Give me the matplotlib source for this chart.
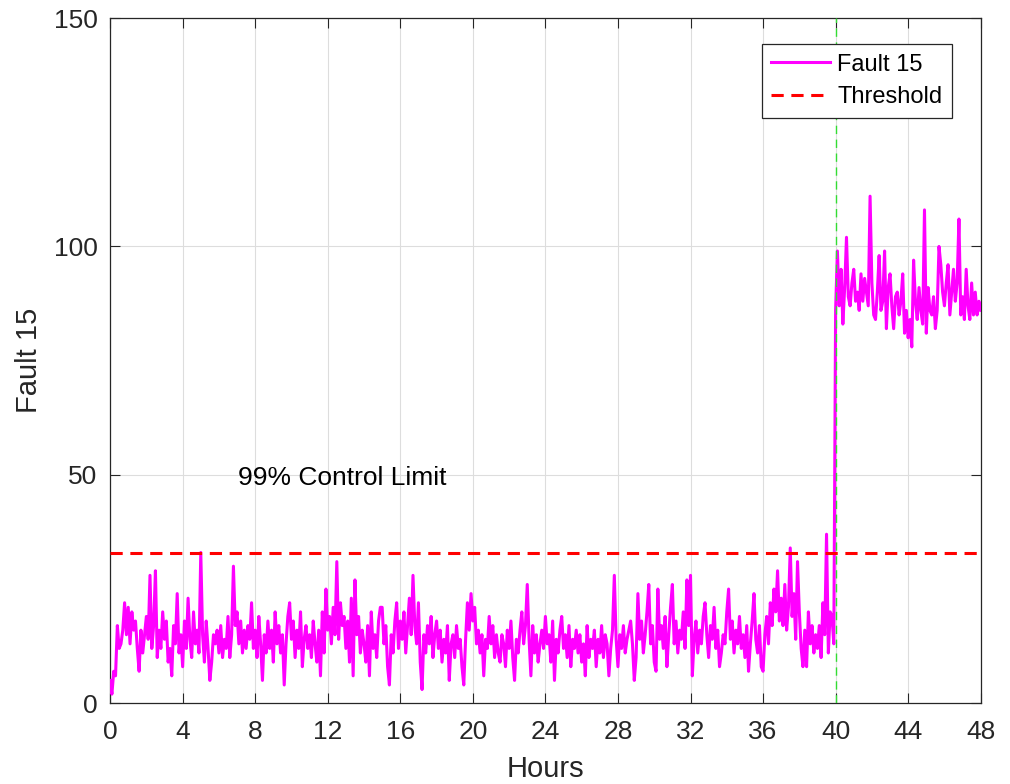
import numpy as np
import matplotlib
matplotlib.use("Agg")
import matplotlib.pyplot as plt

plt.rcParams['font.family'] = ['Liberation Sans', 'DejaVu Sans']

# ====================== DATA ======================
dt = 0.1
fault15 = [
    5, 2, 7, 6, 17, 12, 13, 16, 22, 15,
    21, 13, 20, 16, 18, 12, 7, 16, 11, 15,
    19, 14, 28, 12, 17, 29, 10, 16, 12, 20,
    14, 18, 9, 12, 6, 17, 13, 24, 11, 15,
    8, 18, 12, 23, 14, 10, 20, 13, 16, 11,
    33, 15, 9, 18, 12, 5, 9, 15, 13, 16,
    11, 17, 10, 14, 12, 19, 10, 15, 30, 17,
    20, 13, 18, 11, 16, 12, 17, 14, 22, 12,
    16, 10, 19, 13, 5, 15, 11, 18, 12, 16,
    9, 20, 13, 17, 11, 15, 4, 13, 19, 22,
    14, 18, 10, 16, 12, 20, 8, 14, 17, 12,
    15, 10, 18, 13, 9, 16, 6, 20, 11, 25,
    16, 19, 13, 21, 15, 31, 14, 22, 17, 19,
    12, 18, 9, 23, 6, 27, 15, 19, 11, 16,
    13, 9, 17, 6, 20, 12, 15, 10, 18, 21,
    21, 13, 17, 8, 4, 15, 11, 18, 22, 12,
    18, 14, 20, 11, 17, 23, 15, 28, 17, 13,
    22, 9, 3, 15, 11, 17, 13, 19, 10, 15,
    18, 12, 16, 9, 14, 11, 17, 5, 13, 15,
    10, 17, 12, 14, 8, 4, 14, 22, 16, 24,
    18, 21, 13, 16, 11, 15, 6, 14, 12, 19,
    13, 17, 10, 15, 11, 9, 15, 13, 8, 16,
    12, 18, 10, 5, 14, 11, 16, 20, 13, 17,
    26, 14, 6, 17, 11, 15, 9, 13, 16, 12,
    19, 13, 15, 9, 18, 5, 14, 11, 16, 19,
    12, 15, 10, 17, 8, 14, 12, 16, 11, 15,
    9, 13, 6, 17, 10, 14, 12, 16, 8, 14,
    11, 17, 10, 15, 13, 6, 12, 16, 28, 14,
    8, 15, 12, 17, 11, 14, 16, 18, 13, 5,
    10, 24, 14, 18, 11, 15, 20, 26, 13, 17,
    9, 7, 25, 14, 17, 12, 19, 8, 15, 21,
    26, 13, 18, 11, 16, 14, 20, 12, 27, 17,
    28, 6, 14, 18, 11, 16, 13, 19, 22, 15,
    10, 17, 14, 21, 12, 16, 8, 11, 15, 13,
    20, 25, 14, 18, 11, 16, 13, 19, 12, 15,
    10, 17, 7, 13, 18, 24, 14, 11, 17, 8,
    7, 15, 19, 13, 22, 17, 25, 20, 29, 18,
    23, 17, 26, 16, 21, 34, 19, 24, 14, 31,
    20, 12, 8, 16, 8, 20, 13, 17, 11, 15,
    12, 17, 10, 22, 15, 37, 11, 20, 19, 13,
    86, 99, 87, 95, 83, 91, 102, 89, 87, 92,
    95, 88, 90, 86, 94, 88, 93, 90, 87, 111,
    92, 85, 84, 90, 98, 86, 88, 99, 82, 91,
    94, 87, 82, 89, 90, 85, 88, 94, 81, 86,
    80, 84, 78, 97, 88, 84, 91, 86, 83, 108,
    81, 91, 86, 85, 89, 82, 86, 100, 96, 90,
    87, 92, 96, 85, 90, 95, 88, 92, 106, 85,
    89, 84, 95, 87, 84, 92, 85, 90, 85, 88,
    86,
]
hours = np.arange(len(fault15)) * dt

threshold = 33
fault_start = 40
x_ticks = list(range(0, 49, 4))
y_ticks = [0, 50, 100, 150]

# ====================== PLOT ======================
fig = plt.figure(figsize=(10.1, 7.84), dpi=100)
ax = fig.add_axes([0.109, 0.103, 0.862, 0.874])

ax.plot(hours, fault15, color='#FF00FF', linewidth=2.2, label='Fault 15', zorder=3)
ax.axhline(threshold, color='#FF0000', linestyle=(0, (4, 2.5)), linewidth=2.2,
           label='Threshold', zorder=4)
ax.axvline(fault_start, color='#33DD33', linestyle=(0, (6, 4)), linewidth=1.0, zorder=5)

ax.text(7.05, 49.3, '99% Control Limit', fontsize=19, va='center', ha='left', color='black')

ax.set_xlim(0, 48)
ax.set_ylim(0, 150)
ax.set_xticks(x_ticks)
ax.set_yticks(y_ticks)
ax.tick_params(direction='in', length=7, width=0.8, labelsize=19, colors='#262626',
               top=True, right=True)
ax.tick_params(axis='x', pad=12)
ax.tick_params(axis='y', pad=9)
ax.grid(True, color='#DDDDDD', linewidth=0.8)
ax.set_axisbelow(True)
for s in ax.spines.values():
    s.set_color('#262626')
    s.set_linewidth(0.9)

ax.set_xlabel('Hours', fontsize=21, color='#262626', labelpad=8)
ax.set_ylabel('Fault 15', fontsize=21, color='#262626', labelpad=8)

leg = ax.legend(loc='upper right', bbox_to_anchor=(0.9667, 0.962), borderaxespad=0,
                fontsize=17, fancybox=False, framealpha=1, edgecolor='#262626',
                handlelength=2.5, borderpad=0.4, labelspacing=0.45, handletextpad=0.3)
leg.get_frame().set_linewidth(0.9)

plt.savefig('out.png', dpi=100)
